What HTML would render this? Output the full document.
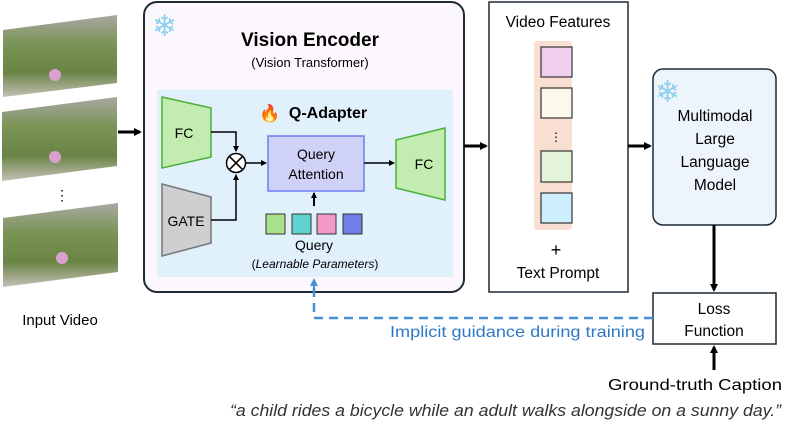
<!DOCTYPE html>
<html><head><style>
body{margin:0;background:#fff;}
svg{display:block;font-family:"Liberation Sans",sans-serif;}
</style></head><body>
<svg width="793" height="431" viewBox="0 0 793 431" xmlns="http://www.w3.org/2000/svg">
<defs>
<marker id="ah" markerWidth="8" markerHeight="8" refX="6" refY="4" orient="auto" markerUnits="userSpaceOnUse"><path d="M0,0 L8,4 L0,8 z" fill="#000"/></marker>
<marker id="ahs" markerWidth="6" markerHeight="6" refX="5" refY="3" orient="auto" markerUnits="userSpaceOnUse"><path d="M0,0 L6,3 L0,6 z" fill="#000"/></marker>
<marker id="ahb" markerWidth="8" markerHeight="8" refX="6" refY="4" orient="auto" markerUnits="userSpaceOnUse"><path d="M0,0 L8,4 L0,8 z" fill="#4a90d9"/></marker>
<linearGradient id="img" x1="0" y1="0" x2="0" y2="1"><stop offset="0" stop-color="#a8a8a2"/><stop offset="0.35" stop-color="#7a9456"/><stop offset="0.7" stop-color="#6a8446"/><stop offset="1" stop-color="#c5c0b5"/></linearGradient>
</defs>
<polygon points="3,30 117,15 117,83 3,97" fill="url(#img)"/>
<polygon points="2,112 117,97 117,166 2,181" fill="url(#img)"/>
<polygon points="3,218 118,203 118,272 3,287" fill="url(#img)"/>
<circle cx="55" cy="75" r="6" fill="#d9a0d0"/><circle cx="55" cy="157" r="6" fill="#d9a0d0"/><circle cx="62" cy="258" r="6" fill="#d9a0d0"/>
<text x="62" y="200" font-size="14" text-anchor="middle">⋮</text>
<text x="60" y="325" font-size="15" text-anchor="middle">Input Video</text>
<line x1="118" y1="132" x2="140" y2="132" stroke="#000" stroke-width="3" marker-end="url(#ah)"/>
<rect x="144" y="2" width="320" height="290" rx="13" fill="#fdf8fd" stroke="#1e2a35" stroke-width="2"/>
<text x="152" y="36" font-size="30" fill="#8fd0ee">❄</text>
<text x="310" y="46" font-size="19" font-weight="bold" text-anchor="middle">Vision Encoder</text>
<text x="310" y="67" font-size="13" text-anchor="middle">(Vision Transformer)</text>
<rect x="157" y="90" width="296" height="187" fill="#e0f1fb"/>
<text x="259" y="119" font-size="17" fill="#f06a1e">🔥</text>
<text x="328" y="118" font-size="16" font-weight="bold" text-anchor="middle">Q-Adapter</text>
<polygon points="162,97 211,108 211,157 162,168" fill="#c3ecb0" stroke="#4caf3a" stroke-width="1.5"/>
<text x="184" y="138" font-size="14" text-anchor="middle">FC</text>
<polygon points="162,184 211,197 211,243 162,256" fill="#cfcfcf" stroke="#777" stroke-width="1.5"/>
<text x="186" y="226" font-size="14" text-anchor="middle">GATE</text>
<path d="M211,132 H236 V151" fill="none" stroke="#000" stroke-width="1.5" marker-end="url(#ahs)"/>
<path d="M211,220 H236 V175" fill="none" stroke="#000" stroke-width="1.5" marker-end="url(#ahs)"/>
<circle cx="236" cy="163" r="9.5" fill="#fff" stroke="#000" stroke-width="1.5"/>
<path d="M229.3,156.3 L242.7,169.7 M242.7,156.3 L229.3,169.7" stroke="#000" stroke-width="1.5"/>
<line x1="246" y1="163" x2="266" y2="163" stroke="#000" stroke-width="1.5" marker-end="url(#ahs)"/>
<rect x="268" y="136" width="96" height="55" fill="#cfd2f6" stroke="#6e7cf0" stroke-width="1.5"/>
<text x="316" y="159" font-size="14" text-anchor="middle">Query</text>
<text x="316" y="179" font-size="14" text-anchor="middle">Attention</text>
<line x1="364" y1="163" x2="394" y2="163" stroke="#000" stroke-width="1.5" marker-end="url(#ahs)"/>
<polygon points="396,140 445,128 445,200 396,188" fill="#c3ecb0" stroke="#4caf3a" stroke-width="1.5"/>
<text x="424" y="169" font-size="14" text-anchor="middle">FC</text>
<line x1="314" y1="206" x2="314" y2="193" stroke="#000" stroke-width="2" marker-end="url(#ahs)"/>
<rect x="266" y="214" width="19" height="20" fill="#a9e08a" stroke="#333"/>
<rect x="292" y="214" width="19" height="20" fill="#5fd3cf" stroke="#333"/>
<rect x="317" y="214" width="19" height="20" fill="#f29ac6" stroke="#333"/>
<rect x="343" y="214" width="19" height="20" fill="#6f7ee9" stroke="#333"/>
<text x="314" y="250" font-size="14" text-anchor="middle">Query</text>
<text x="315" y="268" font-size="12" text-anchor="middle">(<tspan font-style="italic">Learnable Parameters</tspan>)</text>
<line x1="464" y1="146" x2="486" y2="146" stroke="#000" stroke-width="3" marker-end="url(#ah)"/>
<rect x="489" y="2" width="139" height="290" fill="#fff" stroke="#1e2a35" stroke-width="1.5"/>
<text x="558" y="27" font-size="15.5" text-anchor="middle">Video Features</text>
<rect x="534" y="41" width="38" height="189" rx="3" fill="#f9dfd2"/>
<rect x="541" y="47" width="31" height="30" fill="#f0d0ee" stroke="#333" stroke-width="1.2"/>
<rect x="541" y="88" width="31" height="30" fill="#fcf8ea" stroke="#333" stroke-width="1.2"/>
<text x="556" y="141" font-size="12" text-anchor="middle">⋮</text>
<rect x="541" y="151" width="31" height="31" fill="#e4f4da" stroke="#333" stroke-width="1.2"/>
<rect x="541" y="193" width="31" height="30" fill="#cdeefc" stroke="#333" stroke-width="1.2"/>
<text x="556" y="256" font-size="18" text-anchor="middle">+</text>
<text x="558" y="278" font-size="15.5" text-anchor="middle">Text Prompt</text>
<line x1="628" y1="146" x2="650" y2="146" stroke="#000" stroke-width="3" marker-end="url(#ah)"/>
<rect x="653" y="69" width="123" height="156" rx="10" fill="#eef4fb" stroke="#1e2a35" stroke-width="1.5"/>
<text x="655" y="102" font-size="30" fill="#8fd0ee">❄</text>
<text x="715" y="121" font-size="15.5" text-anchor="middle">Multimodal</text>
<text x="715" y="144" font-size="15.5" text-anchor="middle">Large</text>
<text x="715" y="167" font-size="15.5" text-anchor="middle">Language</text>
<text x="715" y="190" font-size="15.5" text-anchor="middle">Model</text>
<line x1="714" y1="225" x2="714" y2="290" stroke="#000" stroke-width="3" marker-end="url(#ah)"/>
<rect x="653" y="293" width="123" height="51" fill="#fff" stroke="#1e2a35" stroke-width="1.5"/>
<text x="714" y="314" font-size="15.5" text-anchor="middle">Loss</text>
<text x="714" y="336" font-size="15.5" text-anchor="middle">Function</text>
<line x1="714" y1="370" x2="714" y2="347" stroke="#000" stroke-width="3" marker-end="url(#ah)"/>
<text x="608" y="390" font-size="16" textLength="174" lengthAdjust="spacingAndGlyphs">Ground-truth Caption</text>
<text x="230" y="416" font-size="16.5" font-style="italic" fill="#333" textLength="551" lengthAdjust="spacingAndGlyphs">“a child rides a bicycle while an adult walks alongside on a sunny day.”</text>
<path d="M653,318 H314 V282" fill="none" stroke="#4a90d9" stroke-width="2.5" stroke-dasharray="9,6"/>
<line x1="314" y1="290" x2="314" y2="280" stroke="#4a90d9" stroke-width="2" marker-end="url(#ahb)"/>
<text x="390" y="337" font-size="16" fill="#2f78c4" textLength="255" lengthAdjust="spacingAndGlyphs">Implicit guidance during training</text>
</svg>
</body></html>
